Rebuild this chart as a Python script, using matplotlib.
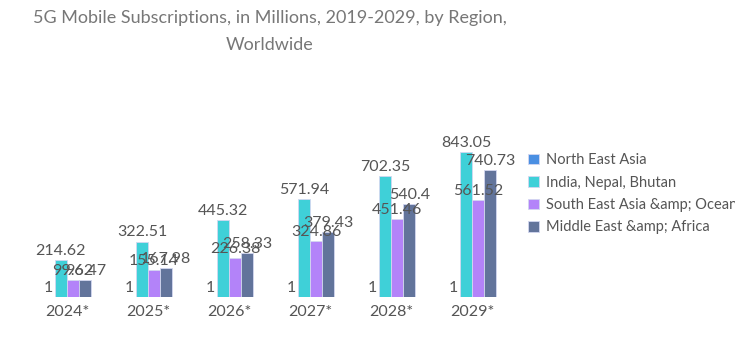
import matplotlib.pyplot as plt
import numpy as np

plt.rcParams['font.family'] = ['Lato', 'DejaVu Sans']

years = ['2024*', '2025*', '2026*', '2027*', '2028*', '2029*']
regions = ['North East Asia', 'India, Nepal, Bhutan',
           'South East Asia &amp; Oceania', 'Middle East &amp; Africa']
north_east_asia = [1, 1, 1, 1, 1, 1]
india = [214.62, 322.51, 445.32, 571.94, 702.35, 843.05]
sea_oceania = [99.62, 155.14, 226.38, 324.86, 451.46, 561.52]
mea = [96.47, 167.98, 258.33, 379.43, 540.4, 740.73]
colors = ['#4a8fe2', '#3fd0d8', '#b383f9', '#62749b']

W, H = 748, 341
fig = plt.figure(figsize=(W / 100, H / 100), dpi=100)
# axes placed in pixel terms
left, right, bottom, top = 18.4, 520.6, 44, 125
ax = fig.add_axes([left / W, bottom / H, (right - left) / W, (H - bottom - top) / H])

x = np.arange(len(years))
bw = 0.15
series = [north_east_asia, india, sea_oceania, mea]
for i, vals in enumerate(series):
    pos = x + (i - 1.5) * bw
    ax.bar(pos, vals, bw, color=colors[i], edgecolor='#d3d7f0',
           linewidth=0.6, label=regions[i])
    for p, v in zip(pos, vals):
        ax.text(p, v + 12, f'{v:g}', ha='center', va='bottom',
                fontsize=11.5, color='#555555')

ax.set_xlim(-0.6, 5.6)
ax.set_ylim(0, 1000)
ax.set_xticks(x)
ax.set_xticklabels(years, fontsize=11.5, color='#555555')
ax.tick_params(axis='x', length=0, pad=6)
ax.set_yticks([])
for s in ax.spines.values():
    s.set_visible(False)

fig.text(270 / W, 1 - 18 / H, '5G Mobile Subscriptions, in Millions, 2019-2029, by Region,',
         ha='center', va='center', fontsize=13, color='#777777')
fig.text(270 / W, 1 - 45 / H, 'Worldwide',
         ha='center', va='center', fontsize=13, color='#777777')

leg = fig.legend(loc='upper left', bbox_to_anchor=(515 / W, 1 - 140 / H), frameon=False,
                 fontsize=10.5, labelcolor='#555555', handlelength=0.75, handleheight=0.75,
                 handletextpad=0.5, labelspacing=0.58)
clip = plt.Rectangle((0, 0), 735 / W, 1, transform=fig.transFigure)
for t in leg.get_texts():
    t.set_clip_path(clip)

fig.savefig('out.png', dpi=100)
